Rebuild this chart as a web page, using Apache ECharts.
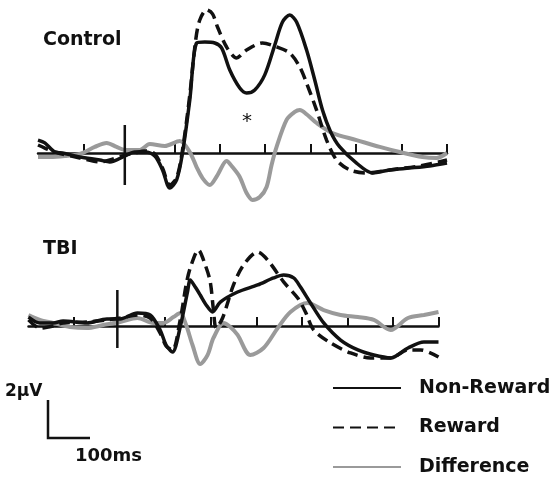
<!DOCTYPE html>
<html>
<head>
<meta charset="utf-8">
<script src="https://cdn.jsdelivr.net/npm/echarts@6.0.0/dist/echarts.min.js"></script>
<style>
  html, body { margin: 0; padding: 0; background: #fff; }
  #erpChart { width: 551px; height: 481px; }
</style>
</head>
<body>
<div id="erpChart"></div>
<script>
// time in ms (stimulus at 0), amplitude in µV
var tickTimes = [-100, 100, 200, 300, 400, 500, 600, 700];

var controlNonReward = [[-200,0.68],[-185,0.53],[-163,0.05],[-146,0],[-108,-0.21],[-64,-0.37],[-42,-0.47],[-9,-0.16],[13,0.05],[35,0.05],[57,-0.16],[74,-0.89],[90,-1.84],[105,-1.42],[118,0],[134,2.79],[149,5.79],[167,5.84],[189,5.79],[204,5.53],[222,4.37],[244,3.42],[259,3.16],[277,3.32],[299,4.11],[321,5.68],[338,6.89],[354,7.26],[369,6.89],[391,5.42],[409,3.84],[426,2.26],[444,1.11],[464,0.32],[501,-0.53],[536,-1.05],[574,-0.89],[618,-0.79],[662,-0.68],[700,-0.53]];
var controlReward = [[-200,0.42],[-185,0.26],[-163,0.05],[-108,-0.26],[-64,-0.47],[-42,-0.37],[-9,-0.11],[13,0],[35,0.11],[57,-0.05],[74,-0.79],[90,-1.68],[105,-1.32],[118,0.16],[134,3.05],[147,5.95],[156,7.0],[171,7.53],[184,7.32],[195,6.63],[215,5.58],[237,5.0],[259,5.42],[294,5.79],[325,5.58],[354,5.26],[376,4.53],[391,3.68],[413,2.26],[435,0.68],[457,-0.37],[486,-0.89],[523,-1.05],[574,-0.89],[640,-0.68],[700,-0.37]];
var controlDifference = [[-200,-0.21],[-174,-0.21],[-141,-0.16],[-108,-0.05],[-75,0.32],[-49,0.53],[-27,0.32],[-9,0.16],[24,0.16],[46,0.47],[79,0.37],[112,0.63],[134,0.05],[149,-0.74],[162,-1.32],[178,-1.68],[195,-1.16],[215,-0.42],[228,-0.74],[244,-1.26],[259,-2.11],[272,-2.47],[288,-2.32],[303,-1.79],[314,-0.63],[325,0.32],[347,1.74],[365,2.16],[376,2.26],[393,2.0],[413,1.58],[448,1.05],[501,0.68],[552,0.32],[596,0.05],[646,-0.21],[677,-0.26],[700,0]];

var tbiNonReward = [[-200,0.47],[-175,0.16],[-146,0.16],[-124,0.26],[-72,0.16],[-28,0.37],[1,0.37],[39,0.68],[67,0.58],[89,-0.21],[102,-1.0],[116,-1.37],[133,-0.05],[149,1.79],[155,2.42],[166,2.05],[177,1.63],[190,1.11],[204,0.74],[221,1.26],[259,1.79],[303,2.16],[338,2.53],[360,2.68],[382,2.53],[397,2.05],[419,1.21],[448,0.16],[485,-0.74],[523,-1.26],[558,-1.53],[595,-1.68],[633,-1.16],[668,-0.84],[700,-0.84]];
var tbiReward = [[-200,0.32],[-175,-0.11],[-146,0],[-124,0.16],[-72,0.21],[-28,0.32],[1,0.42],[39,0.58],[67,0.42],[89,-0.37],[102,-1.05],[116,-1.26],[133,0.32],[146,2.16],[155,3.05],[173,4.0],[188,3.21],[199,2.32],[206,0.84],[212,-0.11],[226,0.42],[250,2.16],[272,3.21],[303,3.89],[325,3.47],[360,2.32],[391,1.47],[408,0.74],[426,-0.21],[463,-0.89],[507,-1.42],[551,-1.68],[595,-1.68],[633,-1.26],[661,-1.26],[700,-1.63]];
var tbiDifference = [[-200,0.58],[-175,0.32],[-146,0.16],[-109,-0.05],[-72,-0.11],[-36,0.05],[1,0.21],[39,0.42],[74,0.16],[96,0.16],[118,0.47],[133,0.68],[146,0.05],[160,-1.0],[177,-2.0],[193,-1.53],[206,-0.63],[228,0.16],[243,-0.05],[259,-0.47],[287,-1.53],[316,-1.16],[347,-0.11],[375,0.74],[413,1.21],[448,0.84],[485,0.58],[523,0.47],[558,0.32],[595,-0.21],[633,0.42],[668,0.58],[700,0.74]];

// stimulus onset markers (vertical bar through baseline)
var controlOnset = [[-9,1.47],[-9,-1.68]];
var tbiOnset = [[-5,1.89],[-5,-1.16]];

var myChart = echarts.init(document.getElementById("erpChart"));
var fontName = "DejaVu Sans";
var black = "#111";
var gray = "#9a9a9a";

function timeAxis(gridIndex) {
  return {
    type: "value",
    gridIndex: gridIndex,
    min: -200,
    max: 700,
    axisLine: { onZero: true, lineStyle: { color: black, width: 2.5 } },
    axisTick: { show: true, inside: true, length: 9, customValues: tickTimes, lineStyle: { color: black, width: 2 } },
    axisLabel: { show: false },
    splitLine: { show: false }
  };
}
function ampAxis(gridIndex, min, max) {
  return {
    type: "value",
    gridIndex: gridIndex,
    min: min,
    max: max,
    show: false,
    splitLine: { show: false }
  };
}
function wave(name, data, idx, color, type, width) {
  return {
    name: name,
    type: "line",
    xAxisIndex: idx,
    yAxisIndex: idx,
    data: data,
    smooth: 0.3,
    symbol: "none",
    lineStyle: { color: color, type: type, width: width },
    itemStyle: { color: color },
    z: 3
  };
}
function onset(data, idx) {
  return {
    type: "line",
    xAxisIndex: idx,
    yAxisIndex: idx,
    data: data,
    symbol: "none",
    lineStyle: { color: black, width: 2.5 },
    z: 4
  };
}

var option = {
  animation: false,
  backgroundColor: "#fff",
  grid: [
    { left: 38, top: 1, width: 409, height: 209 },
    { left: 28.5, top: 231, width: 410, height: 152 }
  ],
  xAxis: [timeAxis(0), timeAxis(1)],
  yAxis: [ampAxis(0, -3, 8), ampAxis(1, -3, 5)],
  legend: {
    orient: "vertical",
    left: 332,
    top: 378,
    padding: 0,
    itemWidth: 68,
    itemHeight: 20,
    itemGap: 19.5,
    itemStyle: { opacity: 0 },
    data: ["Non-Reward", "Reward", "Difference"],
    textStyle: {
      color: black,
      fontFamily: fontName,
      fontWeight: "bold",
      fontSize: 19,
      lineHeight: 20,
      padding: [0, 0, 0, 13]
    }
  },
  graphic: [
    { type: "text", left: 43, top: 31, style: { text: "Control", fill: black, font: "bold 19px 'DejaVu Sans'" } },
    { type: "text", left: 43, top: 240, style: { text: "TBI", fill: black, font: "bold 19px 'DejaVu Sans'" } },
    { type: "text", left: 242, top: 112, style: { text: "*", fill: black, font: "20px 'DejaVu Sans'" } },
    { type: "text", left: 5, top: 383, style: { text: "2µV", fill: black, font: "bold 17px 'DejaVu Sans'" } },
    { type: "text", left: 75, top: 447, style: { text: "100ms", fill: black, font: "bold 18px 'DejaVu Sans'" } },
    {
      type: "polyline",
      shape: { points: [[48, 400], [48, 438], [90, 438]] },
      style: { stroke: black, lineWidth: 2.5, fill: null }
    }
  ],
  series: [
    wave("Difference", controlDifference, 0, gray, "solid", 4),
    wave("Reward", controlReward, 0, black, [11, 6], 3.5),
    wave("Non-Reward", controlNonReward, 0, black, "solid", 3.5),
    onset(controlOnset, 0),
    wave("Difference", tbiDifference, 1, gray, "solid", 4),
    wave("Reward", tbiReward, 1, black, [11, 6], 3.5),
    wave("Non-Reward", tbiNonReward, 1, black, "solid", 3.5),
    onset(tbiOnset, 1)
  ]
};

myChart.setOption(option);
</script>
</body>
</html>
